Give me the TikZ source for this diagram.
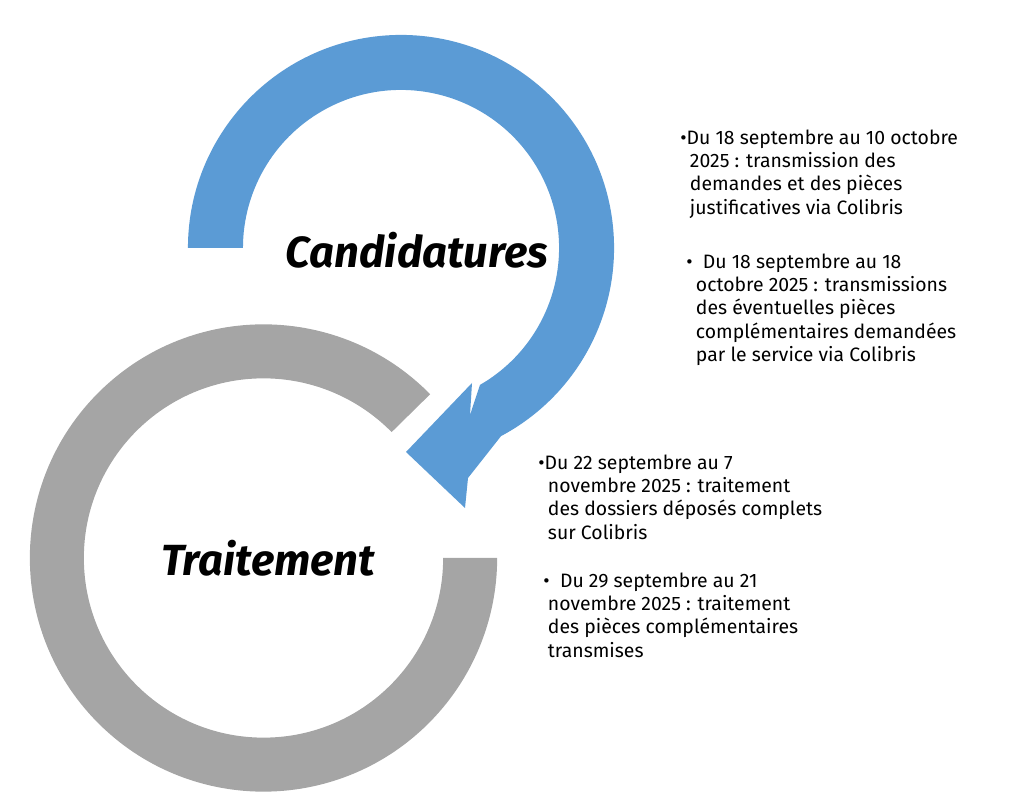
\documentclass[tikz,border=0pt]{standalone}
\usepackage{fontspec}
\setmainfont{Fira Sans}
\usetikzlibrary{calc}
\definecolor{candblue}{HTML}{5B9BD5}
\definecolor{traitgray}{HTML}{A5A5A5}
\begin{document}
\begin{tikzpicture}[x=0.025cm,y=0.025cm,
    datebox/.style ={anchor=north west, align=left, inner sep=0pt,
      font=\fontsize{13.8}{16.4}\selectfont},
    phase/.style ={font=\fontsize{31}{34}\selectfont\bfseries\itshape}]
   \useasboundingbox (0,0) rectangle (1024,806);
   \coordinate (b) at (401,558);
   \coordinate (g) at (263.5,248);

   % grey ring with its gap at the upper right
   \fill[traitgray] ($(g)+(44.5:5.84cm)$) arc[start angle=44.5, end angle=360, radius=5.84cm]
      -- ($(g)+(0:4.49cm)$) arc[start angle=360, end angle=44.5, radius=4.49cm] -- cycle;

   % blue arrow
   \fill[candblue] ($(b)+(180:5.325cm)$) arc[start angle=180, end angle=-62, radius=5.325cm]
      -- (468,328) -- (465,298) -- (406,354) -- (472,423) -- (470,391)
      -- ($(b)+(-60:3.95cm)$) arc[start angle=-60, end angle=180, radius=3.95cm] -- cycle;

   \node[phase] (cand) at (417,556) {Candidatures};
   \node[phase] (trait) at (268,248) {Traitement};

   \node[datebox] (blk1) at (680,676) {\textbullet Du 18 septembre au 10 octobre\\
      \hspace*{0.5em}2025 : transmission des\\
      \hspace*{0.5em}demandes et des pièces\\
      \hspace*{0.5em}justificatives via Colibris};
   \node[datebox] (blk2) at (686,552) {\textbullet\ \ Du 18 septembre au 18\\
      \hspace*{0.5em}octobre 2025 : transmissions\\
      \hspace*{0.5em}des éventuelles pièces\\
      \hspace*{0.5em}complémentaires demandées\\
      \hspace*{0.5em}par le service via Colibris};
   \node[datebox] (blk3) at (538,351) {\textbullet Du 22 septembre au 7\\
      \hspace*{0.5em}novembre 2025 : traitement\\
      \hspace*{0.5em}des dossiers déposés complets\\
      \hspace*{0.5em}sur Colibris};
   \node[datebox] (blk4) at (538,233) {\ \textbullet\ \ Du 29 septembre au 21\\
      \hspace*{0.5em}novembre 2025 : traitement\\
      \hspace*{0.5em}des pièces complémentaires\\
      \hspace*{0.5em}transmises};
 \end{tikzpicture}
\end{document}
